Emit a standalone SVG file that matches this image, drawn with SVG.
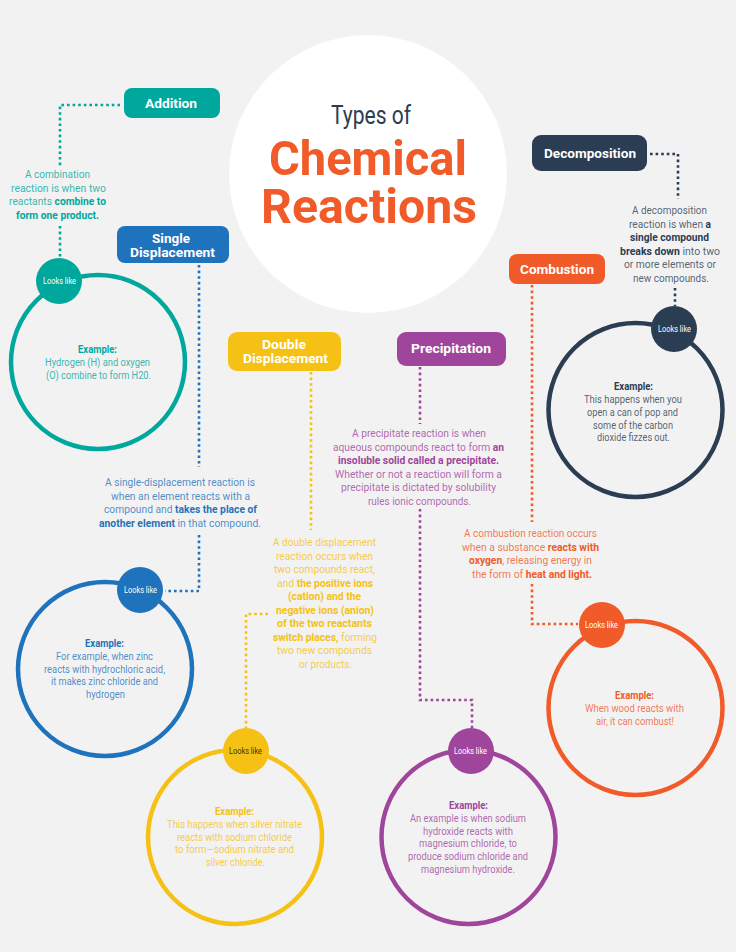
<svg xmlns="http://www.w3.org/2000/svg" width="736" height="952" viewBox="0 0 736 952">
<style>
text{font-family:"Roboto","Liberation Sans",sans-serif;font-size:10.2px;font-weight:400}
.d text{fill-opacity:.8}
.d text.w,.d text.l{fill-opacity:1}
tspan.b,text.b{font-weight:700;fill-opacity:1}
.d text.b{fill-opacity:1}
text.l{font-size:9.5px;fill:#fff}
text.w{font-size:13.5px;font-weight:700;fill:#fff}
.ring{fill:none;stroke-width:4.5}
#connectors path{fill:none;stroke-width:2.6;stroke-dasharray:2.6 3}
.teal text{fill:#00a79d}.teal .ring{stroke:#00a79d}.teal .f{fill:#00a79d}
.blue text{fill:#1f72bc}.blue .ring{stroke:#1f72bc}.blue .f{fill:#1f72bc}
.yel text{fill:#f5c115}.yel .ring{stroke:#f5c115}.yel .f{fill:#f5c115}
.pur text{fill:#a0459c}.pur .ring{stroke:#a0459c}.pur .f{fill:#a0459c}
.ora text{fill:#f15a29}.ora .ring{stroke:#f15a29}.ora .f{fill:#f15a29}
.nav text{fill:#2b3d52}.nav .ring{stroke:#2b3d52}.nav .f{fill:#2b3d52}
.d text.w,.d text.l{fill:#fff}
.yel text.l{fill:#3d3410}
</style>
<rect width="736" height="952" fill="#f2f2f2"/>
<g id="connectors">
<path stroke="#00a79d" d="M120 105H60V168M60 226V257"/>
<path stroke="#1f72bc" d="M199 265V467M199 535V591H165"/>
<path stroke="#f5c115" d="M311 372V530M268 614H246V728"/>
<path stroke="#a0459c" d="M420 367V424M420 509V700H472V728"/>
<path stroke="#f15a29" d="M532 285V522M532 584V624H578"/>
<path stroke="#2b3d52" d="M650 154H678V199M675 288V306"/>
</g>
<g id="title">
<circle cx="368" cy="174" r="139" fill="#fff"/>
<text x="331" y="124" textLength="80" lengthAdjust="spacingAndGlyphs" style="font-size:25px;fill:#2b3d52">Types of</text>
<text x="269" y="175" textLength="198" lengthAdjust="spacingAndGlyphs" style="font-size:49px;font-weight:700;fill:#f15a29">Chemical</text>
<text x="261" y="223" textLength="216" lengthAdjust="spacingAndGlyphs" style="font-size:49px;font-weight:700;fill:#f15a29">Reactions</text>
</g>
<g id="addition" class="d teal">
<rect class="f" x="124" y="88" width="96" height="30" rx="8"/>
<text class="w" x="145" y="108" textLength="52" lengthAdjust="spacingAndGlyphs">Addition</text>
<text x="25" y="178" textLength="65" lengthAdjust="spacingAndGlyphs">A combination</text>
<text x="11" y="192" textLength="95" lengthAdjust="spacingAndGlyphs">reaction is when two</text>
<text x="9" y="205" textLength="97" lengthAdjust="spacingAndGlyphs">reactants <tspan class="b">combine to</tspan></text>
<text class="b" x="16" y="219" textLength="83" lengthAdjust="spacingAndGlyphs">form one product.</text>
<circle class="ring" cx="98" cy="362" r="87"/>
<circle class="f" cx="59" cy="281" r="23"/>
<text class="l" x="43" y="284" textLength="33" lengthAdjust="spacingAndGlyphs">Looks like</text>
<text class="b" x="78" y="353" textLength="39" lengthAdjust="spacingAndGlyphs">Example:</text>
<text x="45" y="366" textLength="105" lengthAdjust="spacingAndGlyphs">Hydrogen (H) and oxygen</text>
<text x="46" y="379" textLength="105" lengthAdjust="spacingAndGlyphs">(O) combine to form H20.</text>
</g>
<g id="single-displacement" class="d blue">
<rect class="f" x="117" y="226" width="112" height="37" rx="8"/>
<text class="w"><tspan x="152" y="243" textLength="38" lengthAdjust="spacingAndGlyphs">Single</tspan><tspan x="130" y="257" textLength="85" lengthAdjust="spacingAndGlyphs">Displacement</tspan></text>
<text x="105" y="486" textLength="150" lengthAdjust="spacingAndGlyphs">A single-displacement reaction is</text>
<text x="111" y="499.5" textLength="139" lengthAdjust="spacingAndGlyphs">when an element reacts with a</text>
<text x="104" y="513" textLength="153" lengthAdjust="spacingAndGlyphs">compound and <tspan class="b">takes the place of</tspan></text>
<text x="99" y="526.5" textLength="162" lengthAdjust="spacingAndGlyphs"><tspan class="b">another element</tspan> in that compound.</text>
<circle class="ring" cx="105" cy="669" r="87"/>
<circle class="f" cx="140" cy="590" r="23"/>
<text class="l" x="124" y="593" textLength="33" lengthAdjust="spacingAndGlyphs">Looks like</text>
<text class="b" x="85" y="647" textLength="39" lengthAdjust="spacingAndGlyphs">Example:</text>
<text x="56" y="660" textLength="97" lengthAdjust="spacingAndGlyphs">For example, when zinc</text>
<text x="44" y="672.5" textLength="121" lengthAdjust="spacingAndGlyphs">reacts with hydrochloric acid,</text>
<text x="51" y="685" textLength="107" lengthAdjust="spacingAndGlyphs">it makes zinc chloride and</text>
<text x="86" y="698" textLength="39" lengthAdjust="spacingAndGlyphs">hydrogen</text>
</g>
<g id="double-displacement" class="d yel">
<rect class="f" x="228" y="332" width="113" height="39" rx="9"/>
<text class="w"><tspan x="262" y="349" textLength="44" lengthAdjust="spacingAndGlyphs">Double</tspan><tspan x="243" y="363" textLength="85" lengthAdjust="spacingAndGlyphs">Displacement</tspan></text>
<text x="273" y="546" textLength="103" lengthAdjust="spacingAndGlyphs">A double displacement</text>
<text x="276" y="559.5" textLength="97" lengthAdjust="spacingAndGlyphs">reaction occurs when</text>
<text x="274" y="573" textLength="101" lengthAdjust="spacingAndGlyphs">two compounds react,</text>
<text x="277" y="586.5" textLength="96" lengthAdjust="spacingAndGlyphs">and <tspan class="b">the positive ions</tspan></text>
<text class="b" x="288" y="600" textLength="73" lengthAdjust="spacingAndGlyphs">(cation) and the</text>
<text class="b" x="276" y="613.5" textLength="98" lengthAdjust="spacingAndGlyphs">negative ions (anion)</text>
<text class="b" x="277" y="627" textLength="95" lengthAdjust="spacingAndGlyphs">of the two reactants</text>
<text x="273" y="640.5" textLength="104" lengthAdjust="spacingAndGlyphs"><tspan class="b">switch places,</tspan> forming</text>
<text x="277" y="654" textLength="95" lengthAdjust="spacingAndGlyphs">two new compounds</text>
<text x="299" y="667.5" textLength="53" lengthAdjust="spacingAndGlyphs">or products.</text>
<circle class="ring" cx="235" cy="837" r="87"/>
<circle class="f" cx="246" cy="751" r="23"/>
<text class="l" x="229" y="754" textLength="33" lengthAdjust="spacingAndGlyphs">Looks like</text>
<text class="b" x="215" y="815" textLength="39" lengthAdjust="spacingAndGlyphs">Example:</text>
<text x="167" y="828" textLength="135" lengthAdjust="spacingAndGlyphs">This happens when silver nitrate</text>
<text x="177" y="840.5" textLength="115" lengthAdjust="spacingAndGlyphs">reacts with sodium chloride</text>
<text x="175" y="853" textLength="119" lengthAdjust="spacingAndGlyphs">to form—sodium nitrate and</text>
<text x="206" y="866" textLength="59" lengthAdjust="spacingAndGlyphs">silver chloride.</text>
</g>
<g id="precipitation" class="d pur">
<rect class="f" x="397" y="332" width="109" height="34" rx="9"/>
<text class="w" x="411" y="353" textLength="80" lengthAdjust="spacingAndGlyphs">Precipitation</text>
<text x="352" y="437" textLength="134" lengthAdjust="spacingAndGlyphs">A precipitate reaction is when</text>
<text x="333" y="451" textLength="171" lengthAdjust="spacingAndGlyphs">aqueous compounds react to form <tspan class="b">an</tspan></text>
<text class="b" x="338" y="464" textLength="161" lengthAdjust="spacingAndGlyphs">insoluble solid called a precipitate.</text>
<text x="335" y="478" textLength="167" lengthAdjust="spacingAndGlyphs">Whether or not a reaction will form a</text>
<text x="341" y="491" textLength="155" lengthAdjust="spacingAndGlyphs">precipitate is dictated by solubility</text>
<text x="368" y="505" textLength="103" lengthAdjust="spacingAndGlyphs">rules ionic compounds.</text>
<circle class="ring" cx="468.5" cy="837" r="87"/>
<circle class="f" cx="471" cy="751" r="23"/>
<text class="l" x="454" y="754" textLength="33" lengthAdjust="spacingAndGlyphs">Looks like</text>
<text class="b" x="449" y="809" textLength="39" lengthAdjust="spacingAndGlyphs">Example:</text>
<text x="410" y="822" textLength="116" lengthAdjust="spacingAndGlyphs">An example is when sodium</text>
<text x="423" y="834.5" textLength="90" lengthAdjust="spacingAndGlyphs">hydroxide reacts with</text>
<text x="419" y="847" textLength="98" lengthAdjust="spacingAndGlyphs">magnesium chloride, to</text>
<text x="408" y="860" textLength="120" lengthAdjust="spacingAndGlyphs">produce sodium chloride and</text>
<text x="421" y="872.5" textLength="94" lengthAdjust="spacingAndGlyphs">magnesium hydroxide.</text>
</g>
<g id="combustion" class="d ora">
<rect class="f" x="509" y="254" width="96" height="30" rx="8"/>
<text class="w" x="520" y="274" textLength="74" lengthAdjust="spacingAndGlyphs">Combustion</text>
<text x="464" y="537" textLength="133" lengthAdjust="spacingAndGlyphs">A combustion reaction occurs</text>
<text x="462" y="550.5" textLength="137" lengthAdjust="spacingAndGlyphs">when a substance <tspan class="b">reacts with</tspan></text>
<text x="469" y="564" textLength="123" lengthAdjust="spacingAndGlyphs"><tspan class="b">oxygen</tspan>, releasing energy in</text>
<text x="472" y="577.5" textLength="120" lengthAdjust="spacingAndGlyphs">the form of <tspan class="b">heat and light.</tspan></text>
<circle class="ring" cx="635.5" cy="708" r="87"/>
<circle class="f" cx="602" cy="625" r="23"/>
<text class="l" x="585" y="628" textLength="33" lengthAdjust="spacingAndGlyphs">Looks like</text>
<text class="b" x="615" y="699" textLength="39" lengthAdjust="spacingAndGlyphs">Example:</text>
<text x="585" y="712" textLength="99" lengthAdjust="spacingAndGlyphs">When wood reacts with</text>
<text x="596" y="724.5" textLength="78" lengthAdjust="spacingAndGlyphs">air, it can combust!</text>
</g>
<g id="decomposition" class="d nav">
<rect class="f" x="532" y="135" width="115" height="36" rx="9"/>
<text class="w" x="544" y="158" textLength="92" lengthAdjust="spacingAndGlyphs">Decomposition</text>
<text x="632" y="214" textLength="75" lengthAdjust="spacingAndGlyphs">A decomposition</text>
<text x="629" y="227.5" textLength="82" lengthAdjust="spacingAndGlyphs">reaction is when <tspan class="b">a</tspan></text>
<text class="b" x="630" y="241" textLength="79" lengthAdjust="spacingAndGlyphs">single compound</text>
<text x="620" y="254.5" textLength="100" lengthAdjust="spacingAndGlyphs"><tspan class="b">breaks down</tspan> into two</text>
<text x="624" y="268" textLength="92" lengthAdjust="spacingAndGlyphs">or more elements or</text>
<text x="633" y="281.5" textLength="76" lengthAdjust="spacingAndGlyphs">new compounds.</text>
<circle class="ring" cx="635.5" cy="410" r="87"/>
<circle class="f" cx="674" cy="329" r="23"/>
<text class="l" x="658" y="332" textLength="33" lengthAdjust="spacingAndGlyphs">Looks like</text>
<text class="b" x="614" y="390" textLength="39" lengthAdjust="spacingAndGlyphs">Example:</text>
<text x="584" y="403" textLength="98" lengthAdjust="spacingAndGlyphs">This happens when you</text>
<text x="587" y="416" textLength="91" lengthAdjust="spacingAndGlyphs">open a can of pop and</text>
<text x="593" y="428.5" textLength="80" lengthAdjust="spacingAndGlyphs">some of the carbon</text>
<text x="597" y="441" textLength="73" lengthAdjust="spacingAndGlyphs">dioxide fizzes out.</text>
</g>
</svg>
